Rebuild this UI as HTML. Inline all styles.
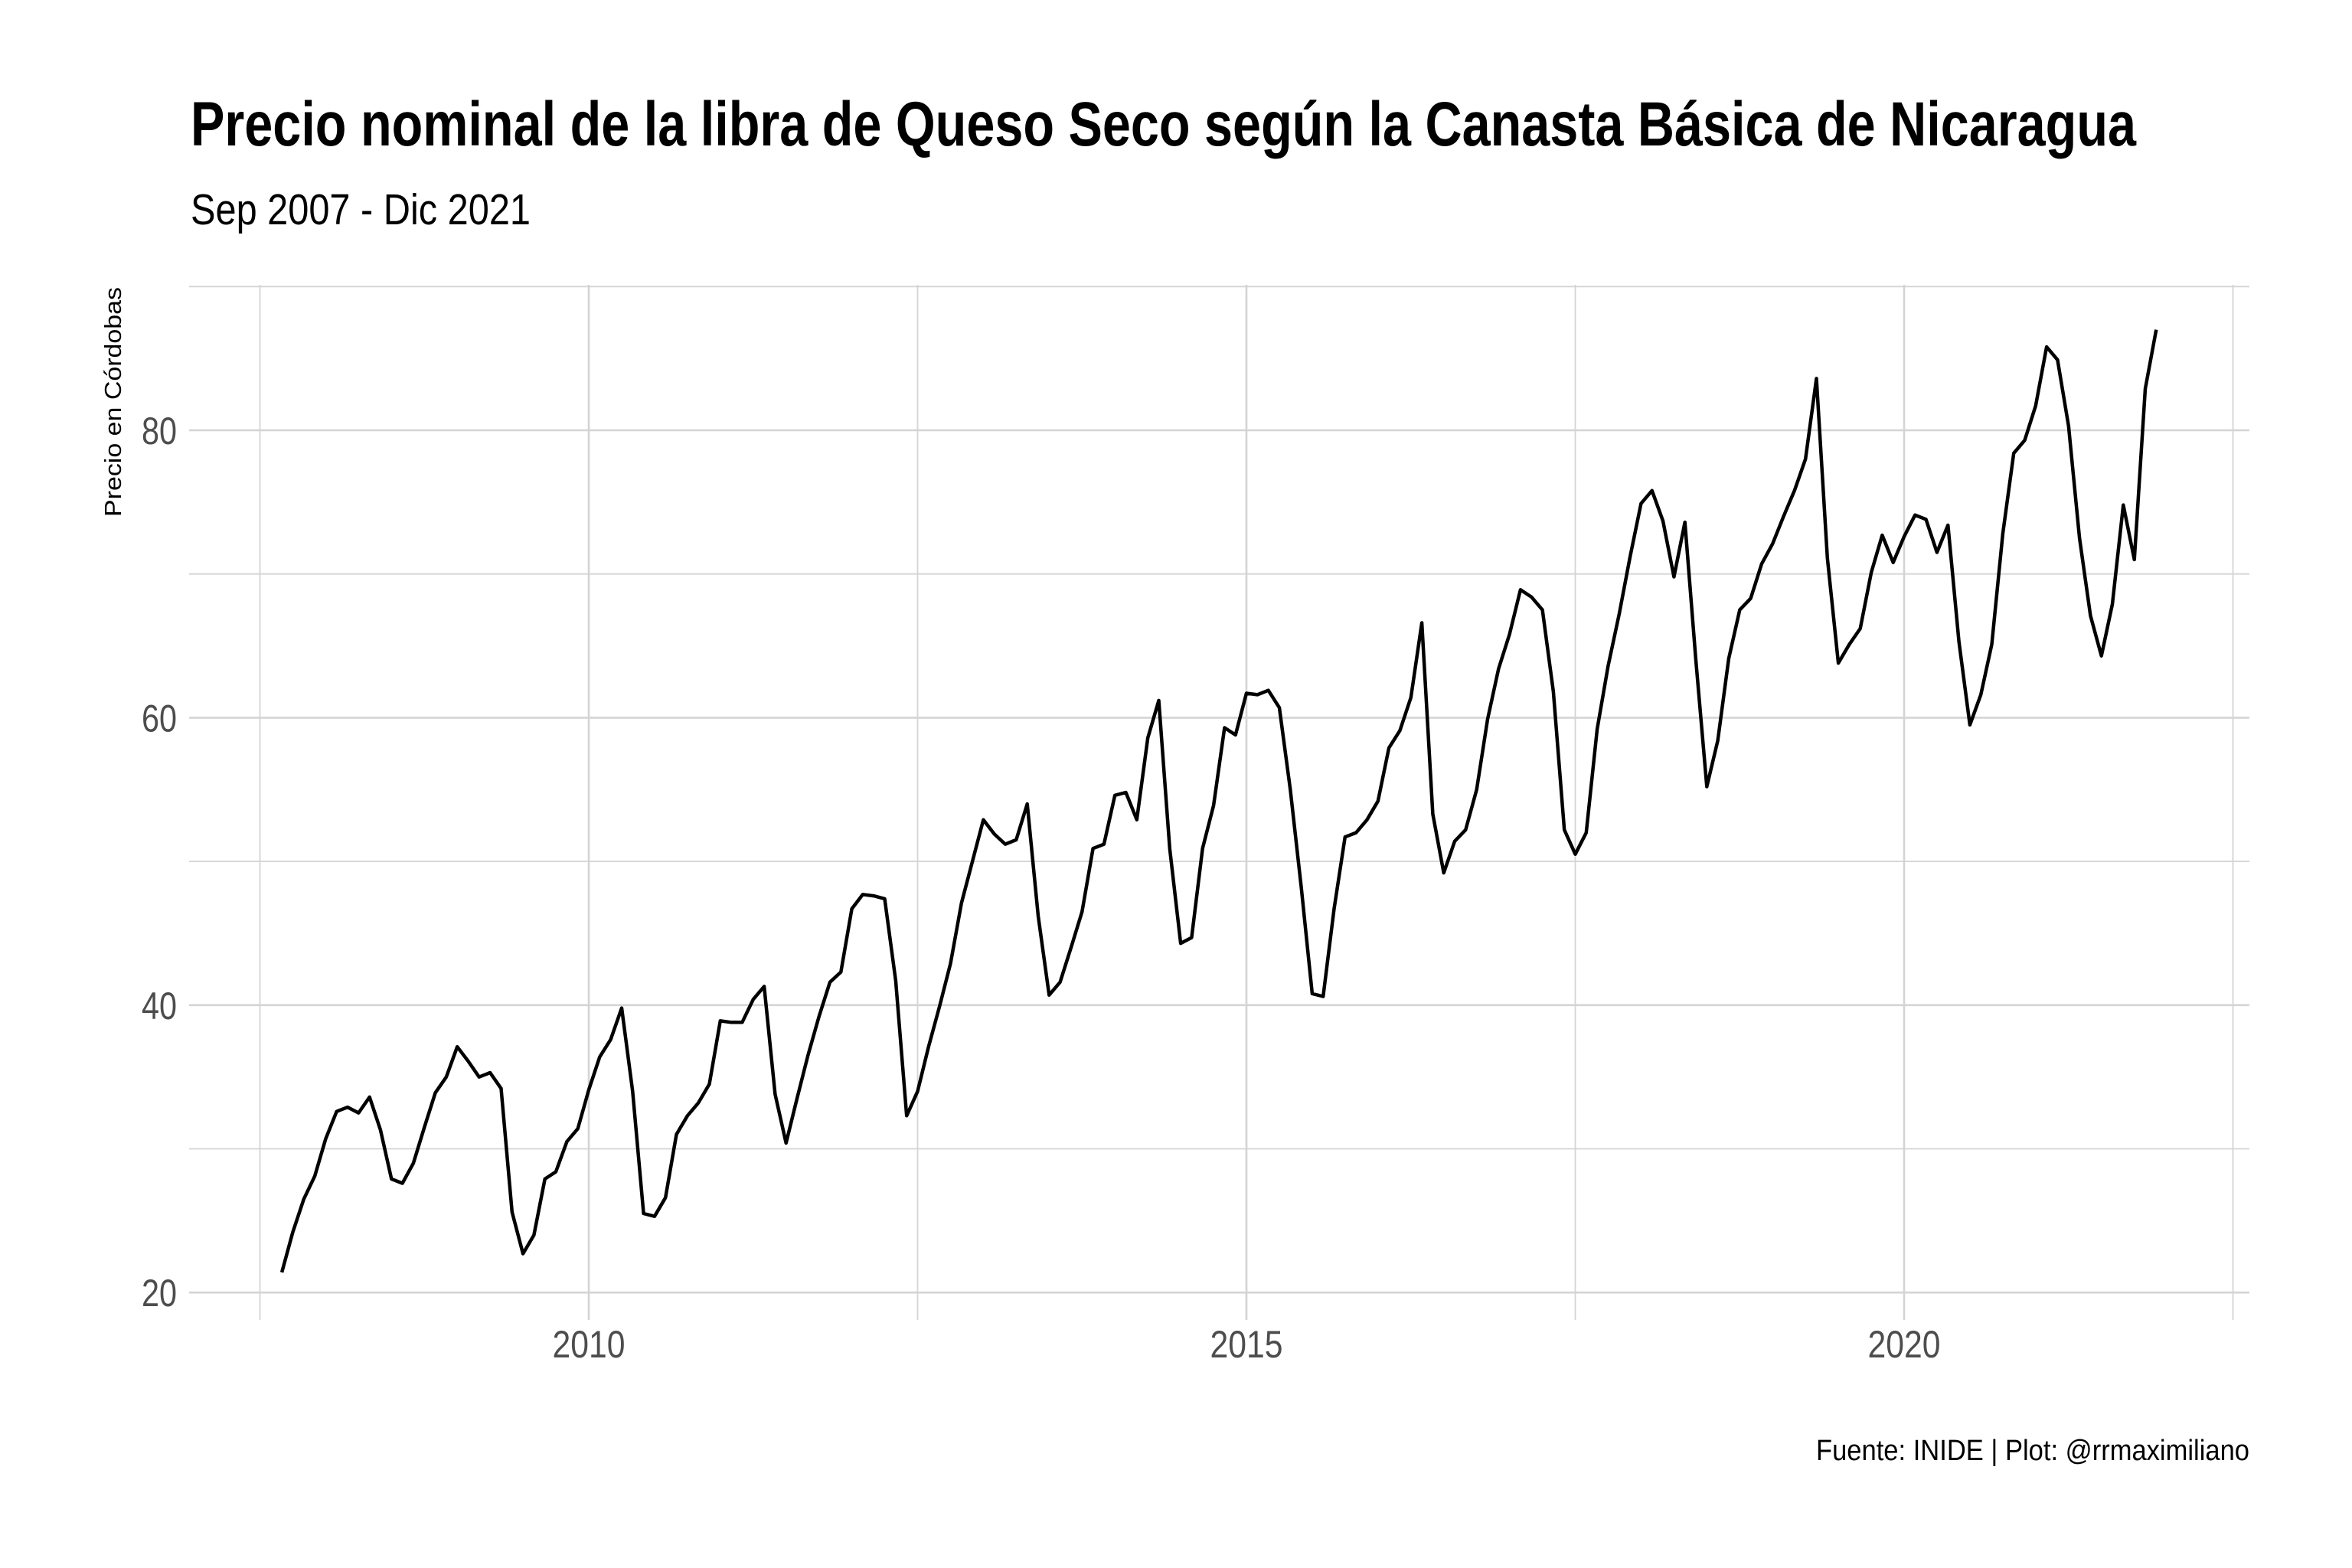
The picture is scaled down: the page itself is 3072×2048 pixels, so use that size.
<!DOCTYPE html>
<html><head><meta charset="utf-8"><style>
html,body{margin:0;padding:0;background:#fff;}
svg{display:block;}
text{font-family:"Liberation Sans Narrow","Liberation Sans",sans-serif;}
</style></head><body>
<svg id="chart" width="3072" height="2048" viewBox="0 0 3072 2048" xmlns="http://www.w3.org/2000/svg">
<rect width="3072" height="2048" fill="#fff"/>
<text x="249" y="190" font-size="82" font-weight="bold" textLength="2541" lengthAdjust="spacingAndGlyphs">Precio nominal de la libra de Queso Seco según la Canasta Básica de Nicaragua</text>
<text x="249" y="293" font-size="57" textLength="444" lengthAdjust="spacingAndGlyphs">Sep 2007 - Dic 2021</text>
<g id="grid"></g>
<g id="axes"></g>
<path id="series" fill="none" stroke="#000" stroke-width="4.5" stroke-linejoin="round"/>
<text transform="translate(158,525) rotate(-90)" text-anchor="middle" font-size="31" textLength="300" lengthAdjust="spacingAndGlyphs">Precio en Córdobas</text>
<text x="2938" y="1907" text-anchor="end" font-size="38" textLength="566" lengthAdjust="spacingAndGlyphs">Fuente: INIDE | Plot: @rrmaximiliano</text>
</svg>
<script>
const startYear = 2007;
const startMonth = 9;
const prices = [
21.4,24.2,26.5,28.1,
30.7,32.6,32.9,32.5,33.6,31.3,27.9,27.6,29.0,31.5,33.9,35.0,
37.1,36.1,35.0,35.3,34.2,25.6,22.7,24.0,27.9,28.4,30.5,31.4,
34.1,36.4,37.6,39.8,34.0,25.5,25.3,26.6,31.0,32.3,33.2,34.5,
38.9,38.8,38.8,40.4,41.3,33.8,30.4,33.5,36.5,39.2,41.6,42.3,
46.7,47.7,47.6,47.4,41.7,32.3,34.0,37.1,39.9,42.9,47.1,50.0,
52.9,51.9,51.2,51.5,54.0,46.2,40.7,41.6,44.0,46.5,50.9,51.2,
54.6,54.8,52.9,58.6,61.2,50.9,44.3,44.7,50.9,53.9,59.3,58.8,
61.7,61.6,61.9,60.7,55.0,48.2,40.8,40.6,46.7,51.7,52.0,52.9,
54.2,57.9,59.1,61.4,66.6,53.3,49.2,51.4,52.2,55.0,59.9,63.4,
65.8,68.9,68.4,67.5,61.8,52.2,50.5,52.0,59.2,63.6,67.2,71.2,
74.9,75.8,73.7,69.8,73.6,64.0,55.2,58.4,64.1,67.5,68.3,70.7,
72.1,74.0,75.8,78.0,83.6,71.1,63.8,65.1,66.2,70.1,72.7,70.8,
72.6,74.1,73.8,71.5,73.4,65.3,59.5,61.6,65.1,72.8,78.4,79.3,
81.7,85.8,84.9,80.3,72.5,67.1,64.3,67.9,74.8,71.0,82.9,87.0
];
const yMajorTicks = [20,40,60,80];
const yMinorTicks = [30,50,70,90];
const xMajorTicks = [2010,2015,2020];
const xMinorTicks = [2007.5,2012.5,2017.5,2022.5];

const L=247,R=2938,T=372,B=1724;
function x(t){return 769+(t-2010)*171.8;}
function y(v){return 562-(v-80)*18.77;}
const NS="http://www.w3.org/2000/svg";
const grid=document.getElementById('grid'), axes=document.getElementById('axes');
function line(x1,y1,x2,y2,w,name){
  const l=document.createElementNS(NS,'line');
  l.setAttribute('x1',x1);l.setAttribute('y1',y1);l.setAttribute('x2',x2);l.setAttribute('y2',y2);
  l.setAttribute('stroke','#d4d4d4');l.setAttribute('stroke-width',w);
  
  
  grid.appendChild(l);
}
yMinorTicks.forEach(v=>line(L,y(v),R,y(v),1.8,'y-minor-gridline'));
xMinorTicks.forEach(t=>line(x(t),T,x(t),B,1.8,'x-minor-gridline'));
yMajorTicks.forEach(v=>line(L,y(v),R,y(v),2.6,'y-major-gridline'));
xMajorTicks.forEach(t=>line(x(t),T,x(t),B,2.6,'x-major-gridline'));
function label(txt,xx,yy,anchor,name,len){
  const e=document.createElementNS(NS,'text');
  e.setAttribute('x',xx);e.setAttribute('y',yy);e.setAttribute('text-anchor',anchor);
  e.setAttribute('font-size','50');e.setAttribute('fill','#4d4d4d');
  e.setAttribute('textLength',len);e.setAttribute('lengthAdjust','spacingAndGlyphs');
  e.textContent=txt;
  
  
  axes.appendChild(e);
}
yMajorTicks.forEach(v=>label(String(v),231,y(v)+18,'end','y-tick-label',46));
xMajorTicks.forEach(t=>label(String(t),x(t),1773,'middle','x-tick-label',95));
let d='';
prices.forEach((p,i)=>{
  const t=startYear+(startMonth-1+i)/12;
  d+=(i?'L':'M')+x(t).toFixed(1)+','+y(p).toFixed(1);
});
document.getElementById('series').setAttribute('d',d);
</script>
</body></html>
